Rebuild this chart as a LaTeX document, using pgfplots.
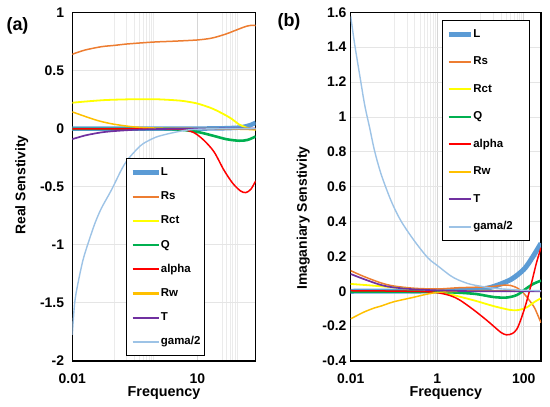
\documentclass[border=0pt]{standalone}
\usepackage{fontspec}
\setmainfont{Liberation Sans}
\usepackage{pgfplots}
\pgfplotsset{compat=1.18}
\definecolor{colL}{HTML}{5B9BD5}
\definecolor{colRs}{HTML}{ED7D31}
\definecolor{colRct}{HTML}{FFFF00}
\definecolor{colQ}{HTML}{00B050}
\definecolor{colAlpha}{HTML}{FF0000}
\definecolor{colRw}{HTML}{FFC000}
\definecolor{colT}{HTML}{7030A0}
\definecolor{colGama}{HTML}{9DC3E6}
\begin{document}
\begin{tikzpicture}
\path[use as bounding box] (0,0) rectangle (550bp,407bp);
% ---------------- (a) ----------------
\begin{axis}[at={(72.3bp,46bp)}, anchor=south west,
  scale only axis, width=183.4bp, height=348.7bp,
  xmode=log, xmin=0.01, xmax=250, ymin=-2, ymax=1,
  axis line style={line width=1.5bp, black},
  xmajorgrids, ymajorgrids, xminorgrids,
  major x grid style={line width=1.2bp, color=black!16},
  major y grid style={line width=0.8bp, color=black!10},
  minor x grid style={line width=0.7bp, color=black!8},
  major tick length=0pt, minor tick length=0pt,
  ticklabel style={font=\fontsize{14}{14}\selectfont\bfseries},
  xticklabel style={anchor=north, inner sep=0pt, yshift=-12.3bp},
  yticklabel style={anchor=east, inner sep=0pt, xshift=-8bp},
  xtick={0.01,10}, xticklabels={0.01,10},
  minor xtick={0.1,0.2,0.3,0.4,0.5,0.6,0.7,0.8,0.9,40,50,60,70,80,90},
  ytick={-2,-1.5,-1,-0.5,0,0.5,1}, yticklabels={-2,-1.5,-1,-0.5,0,0.5,1},
  legend cell align=left,
  legend image code/.code={\draw[#1] (0bp,0bp) -- (26bp,0bp);},
  legend style={at={(rel axis cs:0.293,0.582)}, anchor=north west,
    draw=black, line width=0.8bp, inner xsep=4bp, inner ysep=8bp,
    font=\fontsize{11.5}{11.5}\selectfont\bfseries,
    nodes={inner sep=0pt, text height=9bp, text depth=3bp},
    /tikz/every even column/.append style={column sep=2bp}, row sep=12.2bp},
]
\addplot[color=colL, line width=4.5bp, smooth, tension=0.5] coordinates {(0.01,0) (1,0) (10,0) (30,0.001) (60,0.004) (100,0.008) (150,0.02) (200,0.034) (250,0.05)};
\addlegendentry{L}
\addplot[color=colRs, line width=1.5bp, smooth, tension=0.5, legend image post style={line width=2.2bp}] coordinates {(0.01,0.639) (0.02,0.675) (0.05,0.704) (0.1,0.715) (0.2,0.727) (0.5,0.738) (1,0.745) (3,0.752) (10,0.762) (20,0.775) (30,0.79) (50,0.815) (70,0.835) (100,0.857) (150,0.88) (200,0.888) (250,0.886)};
\addlegendentry{Rs}
\addplot[color=colRct, line width=1.8bp, smooth, tension=0.5, legend image post style={line width=2.2bp}] coordinates {(0.01,0.222) (0.02,0.232) (0.05,0.243) (0.1,0.248) (0.3,0.252) (1,0.252) (3,0.243) (5,0.235) (10,0.215) (20,0.18) (30,0.152) (50,0.11) (63,0.089) (100,0.035) (120,0.022) (150,0.008) (200,-0.005) (250,-0.01)};
\addlegendentry{Rct}
\addplot[color=colQ, line width=2.6bp, smooth, tension=0.5] coordinates {(0.01,-0.003) (1,-0.003) (3,-0.007) (6,-0.017) (12,-0.035) (25,-0.064) (50,-0.092) (100,-0.105) (160,-0.098) (250,-0.068)};
\addlegendentry{Q}
\addplot[color=colAlpha, line width=1.5bp, smooth, tension=0.5, legend image post style={line width=2.2bp}] coordinates {(0.01,-0.004) (1,-0.004) (4,-0.008) (8,-0.033) (14,-0.098) (25,-0.2) (43,-0.356) (70,-0.47) (108,-0.537) (145,-0.551) (192,-0.522) (250,-0.45)};
\addlegendentry{alpha}
\addplot[color=colRw, line width=1.5bp, smooth, tension=0.5, legend image post style={line width=2.2bp}] coordinates {(0.01,0.143) (0.02,0.105) (0.032,0.08) (0.05,0.06) (0.1,0.037) (0.3,0.014) (1,0.004) (3,0.001) (10,0) (50,-0.003) (100,-0.006) (250,-0.01)};
\addlegendentry{Rw}
\addplot[color=colT, line width=1.7bp, smooth, tension=0.5, legend image post style={line width=2.2bp}] coordinates {(0.01,-0.091) (0.02,-0.06) (0.03,-0.047) (0.05,-0.033) (0.1,-0.022) (0.3,-0.011) (1,-0.005) (3,-0.002) (10,-0.001) (250,0)};
\addlegendentry{T}
\addplot[color=colGama, line width=1.4bp, smooth, tension=0.5, legend image post style={line width=2.2bp}] coordinates {(0.01,-1.775) (0.0114,-1.5) (0.0137,-1.33) (0.0181,-1.13) (0.024,-0.986) (0.035,-0.814) (0.05,-0.685) (0.087,-0.528) (0.15,-0.356) (0.21,-0.27) (0.35,-0.18) (0.5,-0.13) (1,-0.075) (2,-0.045) (5,-0.016) (10,-0.006) (30,-0.002) (250,0)};
\addlegendentry{gama/2}
\end{axis}
% ---------------- (b) ----------------
\begin{axis}[at={(350.7bp,46bp)}, anchor=south west,
  scale only axis, width=190.3bp, height=348.7bp,
  xmode=log, xmin=0.01, xmax=250, ymin=-0.4, ymax=1.6,
  axis line style={line width=1.5bp, black},
  xmajorgrids, ymajorgrids, xminorgrids,
  major x grid style={line width=1.2bp, color=black!16},
  major y grid style={line width=0.8bp, color=black!10},
  minor x grid style={line width=0.7bp, color=black!8},
  major tick length=0pt, minor tick length=0pt,
  ticklabel style={font=\fontsize{14}{14}\selectfont\bfseries},
  xticklabel style={anchor=north, inner sep=0pt, yshift=-12.3bp},
  yticklabel style={anchor=east, inner sep=0pt, xshift=-4bp},
  xtick={0.01,1,100}, xticklabels={0.01,1,100},
  minor xtick={0.1,0.2,0.3,0.4,0.5,0.6,0.7,0.8,0.9,10,20,30,40,50,60,70,80,90},
  ytick={-0.4,-0.2,0,0.2,0.4,0.6,0.8,1,1.2,1.4,1.6},
  yticklabels={-0.4,-0.2,0,0.2,0.4,0.6,0.8,1,1.2,1.4,1.6},
  legend cell align=left,
  legend image code/.code={\draw[#1] (0bp,0bp) -- (22.3bp,0bp);},
  legend style={at={(rel axis cs:0.478,0.978)}, anchor=north west,
    draw=black, line width=0.8bp, inner xsep=4bp, inner ysep=8bp,
    font=\fontsize{11.5}{11.5}\selectfont\bfseries,
    nodes={inner sep=0pt, text height=9bp, text depth=3bp},
    /tikz/every even column/.append style={column sep=2bp}, row sep=15.5bp},
]
\addplot[color=colL, line width=5bp, smooth, tension=0.5] coordinates {(0.01,0) (1,0.002) (3,0.005) (10,0.012) (20,0.027) (50,0.067) (100,0.125) (150,0.185) (200,0.235) (250,0.275)};
\addlegendentry{\makebox[52bp][l]{L}}
\addplot[color=colRs, line width=1.5bp, smooth, tension=0.5, legend image post style={line width=2.2bp}] coordinates {(0.01,0.118) (0.02,0.085) (0.05,0.048) (0.1,0.03) (0.3,0.017) (1,0.013) (3,0.02) (10,0.024) (20,0.028) (35,0.035) (50,0.033) (73,0.017) (100,-0.012) (116,-0.031) (150,-0.068) (180,-0.098) (235,-0.165) (250,-0.18)};
\addlegendentry{\makebox[52bp][l]{Rs}}
\addplot[color=colRct, line width=1.8bp, smooth, tension=0.5, legend image post style={line width=2.2bp}] coordinates {(0.01,0.042) (0.03,0.033) (0.1,0.022) (0.3,0.01) (1,-0.004) (2,-0.018) (3.3,-0.031) (8,-0.056) (20,-0.085) (48,-0.107) (73,-0.108) (116,-0.093) (180,-0.06) (250,-0.04)};
\addlegendentry{\makebox[52bp][l]{Rct}}
\addplot[color=colQ, line width=2.6bp, smooth, tension=0.5] coordinates {(0.01,-0.002) (0.1,-0.002) (1,-0.004) (3,-0.008) (8,-0.016) (20,-0.033) (40,-0.036) (70,-0.021) (116,0.017) (165,0.042) (250,0.061)};
\addlegendentry{\makebox[52bp][l]{Q}}
\addplot[color=colAlpha, line width=1.5bp, smooth, tension=0.5, legend image post style={line width=2.2bp}] coordinates {(0.01,0.003) (0.1,0.001) (0.5,-0.002) (1,-0.008) (2,-0.025) (3.3,-0.05) (6.8,-0.105) (13.7,-0.165) (20,-0.2) (30,-0.237) (40,-0.25) (55,-0.242) (70,-0.215) (89,-0.15) (116,-0.06) (150,0.045) (195,0.16) (250,0.25)};
\addlegendentry{\makebox[52bp][l]{alpha}}
\addplot[color=colRw, line width=1.5bp, smooth, tension=0.5, legend image post style={line width=2.2bp}] coordinates {(0.01,-0.158) (0.02,-0.12) (0.036,-0.095) (0.05,-0.085) (0.1,-0.06) (0.28,-0.035) (0.5,-0.02) (1,-0.007) (3,0) (10,0.003) (50,0.002) (250,0)};
\addlegendentry{\makebox[52bp][l]{Rw}}
\addplot[color=colT, line width=1.7bp, smooth, tension=0.5, legend image post style={line width=2.2bp}] coordinates {(0.01,0.099) (0.02,0.07) (0.05,0.036) (0.1,0.022) (0.3,0.011) (1,0.005) (3,0.002) (10,0) (250,0)};
\addlegendentry{\makebox[52bp][l]{T}}
\addplot[color=colGama, line width=1.4bp, smooth, tension=0.5, legend image post style={line width=2.2bp}] coordinates {(0.01,1.577) (0.0124,1.414) (0.0161,1.242) (0.021,1.07) (0.0275,0.936) (0.0358,0.803) (0.051,0.668) (0.0867,0.516) (0.147,0.401) (0.3,0.287) (0.61,0.191) (1,0.148) (2,0.09) (3,0.066) (5,0.045) (7,0.036) (10,0.029) (20,0.017) (50,0.01) (100,0.006) (250,0.003)};
\addlegendentry{\makebox[52bp][l]{gama/2}}
\end{axis}
% ---------------- labels ----------------
\node[font=\fontsize{18}{18}\selectfont\bfseries] at (17.5bp,381bp) {(a)};
\node[font=\fontsize{18}{18}\selectfont\bfseries] at (289bp,385bp) {(b)};
\node[font=\fontsize{14}{14}\selectfont\bfseries, rotate=90] at (21.7bp,222bp) {Real Senstivity};
\node[font=\fontsize{14}{14}\selectfont\bfseries, rotate=90] at (303.3bp,189bp) {Imaganiary Senstivity};
\node[font=\fontsize{14.4}{14.4}\selectfont\bfseries, anchor=base] at (164bp,10.3bp) {Frequency};
\node[font=\fontsize{14.4}{14.4}\selectfont\bfseries, anchor=base] at (445.9bp,10.3bp) {Frequency};
\end{tikzpicture}
\end{document}
